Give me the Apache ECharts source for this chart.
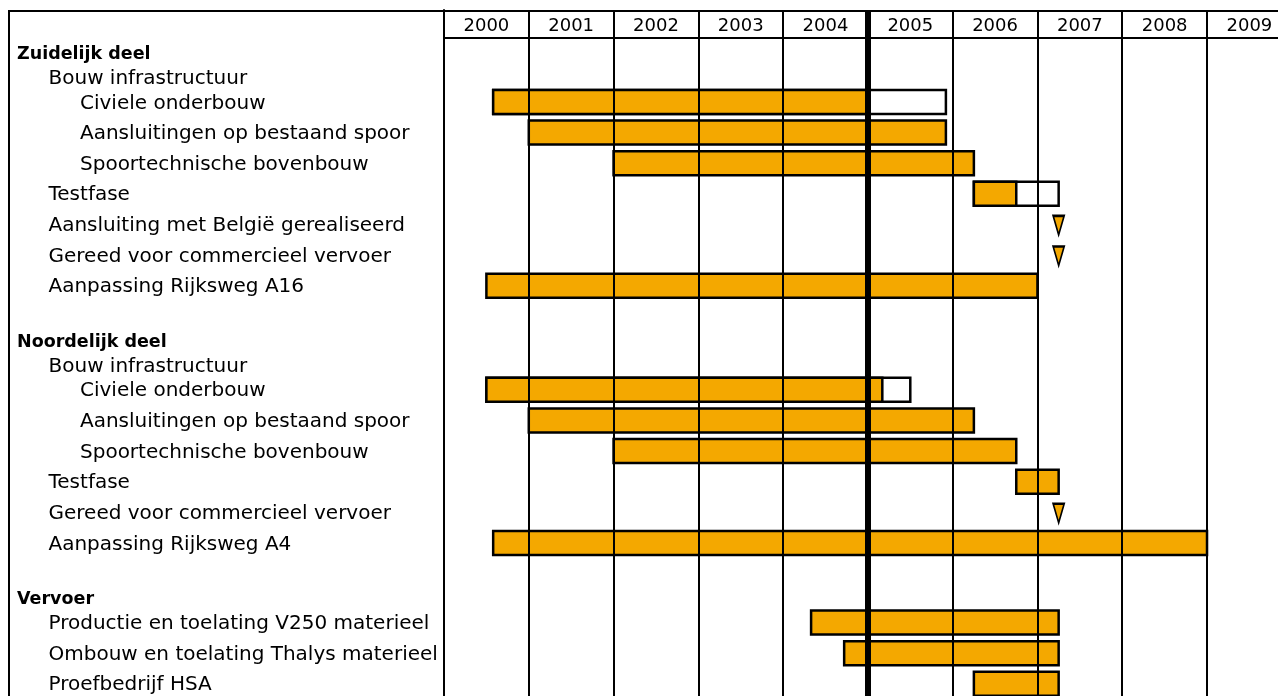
<!DOCTYPE html>
<html>
<head>
<meta charset="utf-8">
<script src="https://cdn.jsdelivr.net/npm/echarts@6/dist/echarts.min.js"></script>
<style>
  html, body { margin: 0; padding: 0; background: #fff; }
  #chart { width: 1278px; height: 696px; }
</style>
</head>
<body>
<div id="chart"></div>
<script>
// ---------- DATA ----------
const yearLabels = ['2000', '2001', '2002', '2003', '2004', '2005', '2006', '2007', '2008', '2009'];

const rowNames = [
  'Zuidelijk deel',
  'Bouw infrastructuur',
  'Civiele onderbouw',
  'Aansluitingen op bestaand spoor',
  'Spoortechnische bovenbouw',
  'Testfase',
  'Aansluiting met België gerealiseerd',
  'Gereed voor commercieel vervoer',
  'Aanpassing Rijksweg A16',
  '',
  'Noordelijk deel',
  'Bouw infrastructuur',
  'Civiele onderbouw',
  'Aansluitingen op bestaand spoor',
  'Spoortechnische bovenbouw',
  'Testfase',
  'Gereed voor commercieel vervoer',
  'Aanpassing Rijksweg A4',
  '',
  'Vervoer',
  'Productie en toelating V250 materieel',
  'Ombouw en toelating Thalys materieel',
  'Proefbedrijf HSA'
];

// hierarchy depth of each row (0 = section title)
const rowDepth = [0, 1, 2, 2, 2, 1, 1, 1, 1, 0, 0, 1, 2, 2, 2, 1, 1, 1, 0, 0, 1, 1, 1];

// bar start, planned end (orange), end including delay (white part)
const barStart = [null, null, 2000.58, 2001.0, 2002.0, 2006.25, null, null, 2000.5, null,
                  null, null, 2000.5, 2001.0, 2002.0, 2006.75, null, 2000.58, null,
                  null, 2004.33, 2004.72, 2006.25];
const barEnd   = [null, null, 2005.0, 2005.92, 2006.25, 2006.75, null, null, 2007.0, null,
                  null, null, 2005.17, 2006.25, 2006.75, 2007.25, null, 2009.0, null,
                  null, 2007.25, 2007.25, 2007.25];
const delayEnd = [null, null, 2005.92, null, null, 2007.25, null, null, null, null,
                  null, null, 2005.5, null, null, null, null, null, null,
                  null, null, null, null];

// milestones
const milestone = [null, null, null, null, null, null, 2007.25, 2007.25, null, null,
                   null, null, null, null, null, null, 2007.25, null, null,
                   null, null, null, null];

const reportDate = 2005;

// ---------- LAYOUT (computed) ----------
const UNIT = 31;            // px per row unit
const HEADER_STEP = 0.8;    // rows following a title line are tighter
const PX_PER_YEAR = 84.78;
const GRID_LEFT = 444, CHART_W = 1278;
const xMin = 2000;
const xMax = xMin + (CHART_W - GRID_LEFT) / PX_PER_YEAR;

const rowPos = [];
rowNames.forEach((n, i) => {
  if (i === 0) { rowPos.push(0); return; }
  const prevHasMark = barStart[i - 1] != null || milestone[i - 1] != null;
  rowPos.push(rowPos[i - 1] + (prevHasMark ? 1 : HEADER_STEP));
});
const yMin = -1.4, yMax = 21, headerLine = -0.5;
const ORANGE = '#F4A800';
const FONT = '"DejaVu Sans", Verdana, sans-serif';

const labelData = rowNames.map((n, i) => [xMin, rowPos[i], i]);
const barData = [];
barStart.forEach((s, i) => {
  if (s == null) return;
  barData.push([s, barEnd[i], delayEnd[i] == null ? barEnd[i] : delayEnd[i], rowPos[i]]);
});
const msData = [];
milestone.forEach((m, i) => { if (m != null) msData.push([m, rowPos[i]]); });

const chart = echarts.init(document.getElementById('chart'), null, { renderer: 'canvas' });

const option = {
  animation: false,
  backgroundColor: '#fff',
  grid: { left: GRID_LEFT, top: 10, right: 0, height: (yMax - yMin) * UNIT, containLabel: false },
  xAxis: [
    {
      type: 'value', min: xMin, max: xMax, interval: 1, position: 'bottom', z: 5,
      axisLine: { show: false }, axisTick: { show: false }, axisLabel: { show: false },
      splitLine: { show: true, showMaxLine: false, lineStyle: { color: '#000', width: 2 } }
    },
    {
      type: 'value', min: xMin, max: xMax, position: 'top', z: 5,
      axisLine: { show: false }, axisTick: { show: false }, splitLine: { show: false },
      axisLabel: {
        inside: true, margin: 7, color: '#000', fontSize: 18, fontFamily: FONT,
        customValues: yearLabels.map(y => Number(y) + 0.5),
        formatter: v => String(Math.floor(v))
      }
    }
  ],
  yAxis: {
    type: 'value', inverse: true, min: yMin, max: yMax, z: 5,
    axisLine: { show: true, lineStyle: { color: '#000', width: 2 } },
    axisTick: { show: false }, axisLabel: { show: false }, splitLine: { show: false }
  },
  graphic: [{
    type: 'rect', z: 10, silent: true,
    shape: { x: 9, y: 11, width: 1400, height: 800 },
    style: { fill: 'none', stroke: '#000', lineWidth: 2 }
  }],
  series: [
    {
      type: 'custom', name: 'labels', xAxisIndex: 0, yAxisIndex: 0, z: 3,
      encode: { x: 0, y: 1 },
      data: labelData,
      renderItem: function (params, api) {
        const i = api.value(2);
        const y = api.coord([api.value(0), api.value(1)])[1];
        const d = rowDepth[i];
        const bold = d === 0;
        return {
          type: 'text',
          x: 17 + d * 31.5,
          y: y + 1.5,
          style: {
            text: rowNames[i],
            fill: '#000',
            font: (bold ? 'bold 17.5px ' : '20px ') + FONT,
            align: 'left',
            verticalAlign: 'middle'
          }
        };
      }
    },
    {
      type: 'custom', name: 'bars', xAxisIndex: 0, yAxisIndex: 0, z: 2,
      encode: { x: [0, 1, 2], y: 3 },
      data: barData,
      renderItem: function (params, api) {
        const yv = api.value(3);
        const p0 = api.coord([api.value(0), yv]);
        const p1 = api.coord([api.value(1), yv]);
        const p2 = api.coord([api.value(2), yv]);
        const h = 24;
        const children = [];
        if (p2[0] > p1[0] + 0.5) {
          children.push({
            type: 'rect',
            shape: { x: p0[0], y: p0[1] - h / 2, width: p2[0] - p0[0], height: h },
            style: { fill: '#fff', stroke: '#000', lineWidth: 2.5 }
          });
        }
        children.push({
          type: 'rect',
          shape: { x: p0[0], y: p0[1] - h / 2, width: p1[0] - p0[0], height: h },
          style: { fill: ORANGE, stroke: '#000', lineWidth: 2.5 }
        });
        return { type: 'group', children: children };
      }
    },
    {
      type: 'scatter', name: 'milestones', xAxisIndex: 0, yAxisIndex: 0, z: 6,
      data: msData,
      symbol: 'triangle', symbolRotate: 180, symbolSize: [11, 19], symbolOffset: [0, 1],
      itemStyle: { color: ORANGE, borderColor: '#000', borderWidth: 2, opacity: 1 },
      markLine: {
        silent: true, symbol: ['none', 'none'], label: { show: false }, z: 6,
        lineStyle: { color: '#000', type: 'solid' },
        emphasis: { disabled: true },
        data: [
          { xAxis: reportDate, lineStyle: { width: 6, color: '#000', type: 'solid' } },
          { yAxis: headerLine, lineStyle: { width: 2, color: '#000', type: 'solid' } }
        ]
      }
    }
  ]
};
chart.setOption(option);
</script>
</body>
</html>
